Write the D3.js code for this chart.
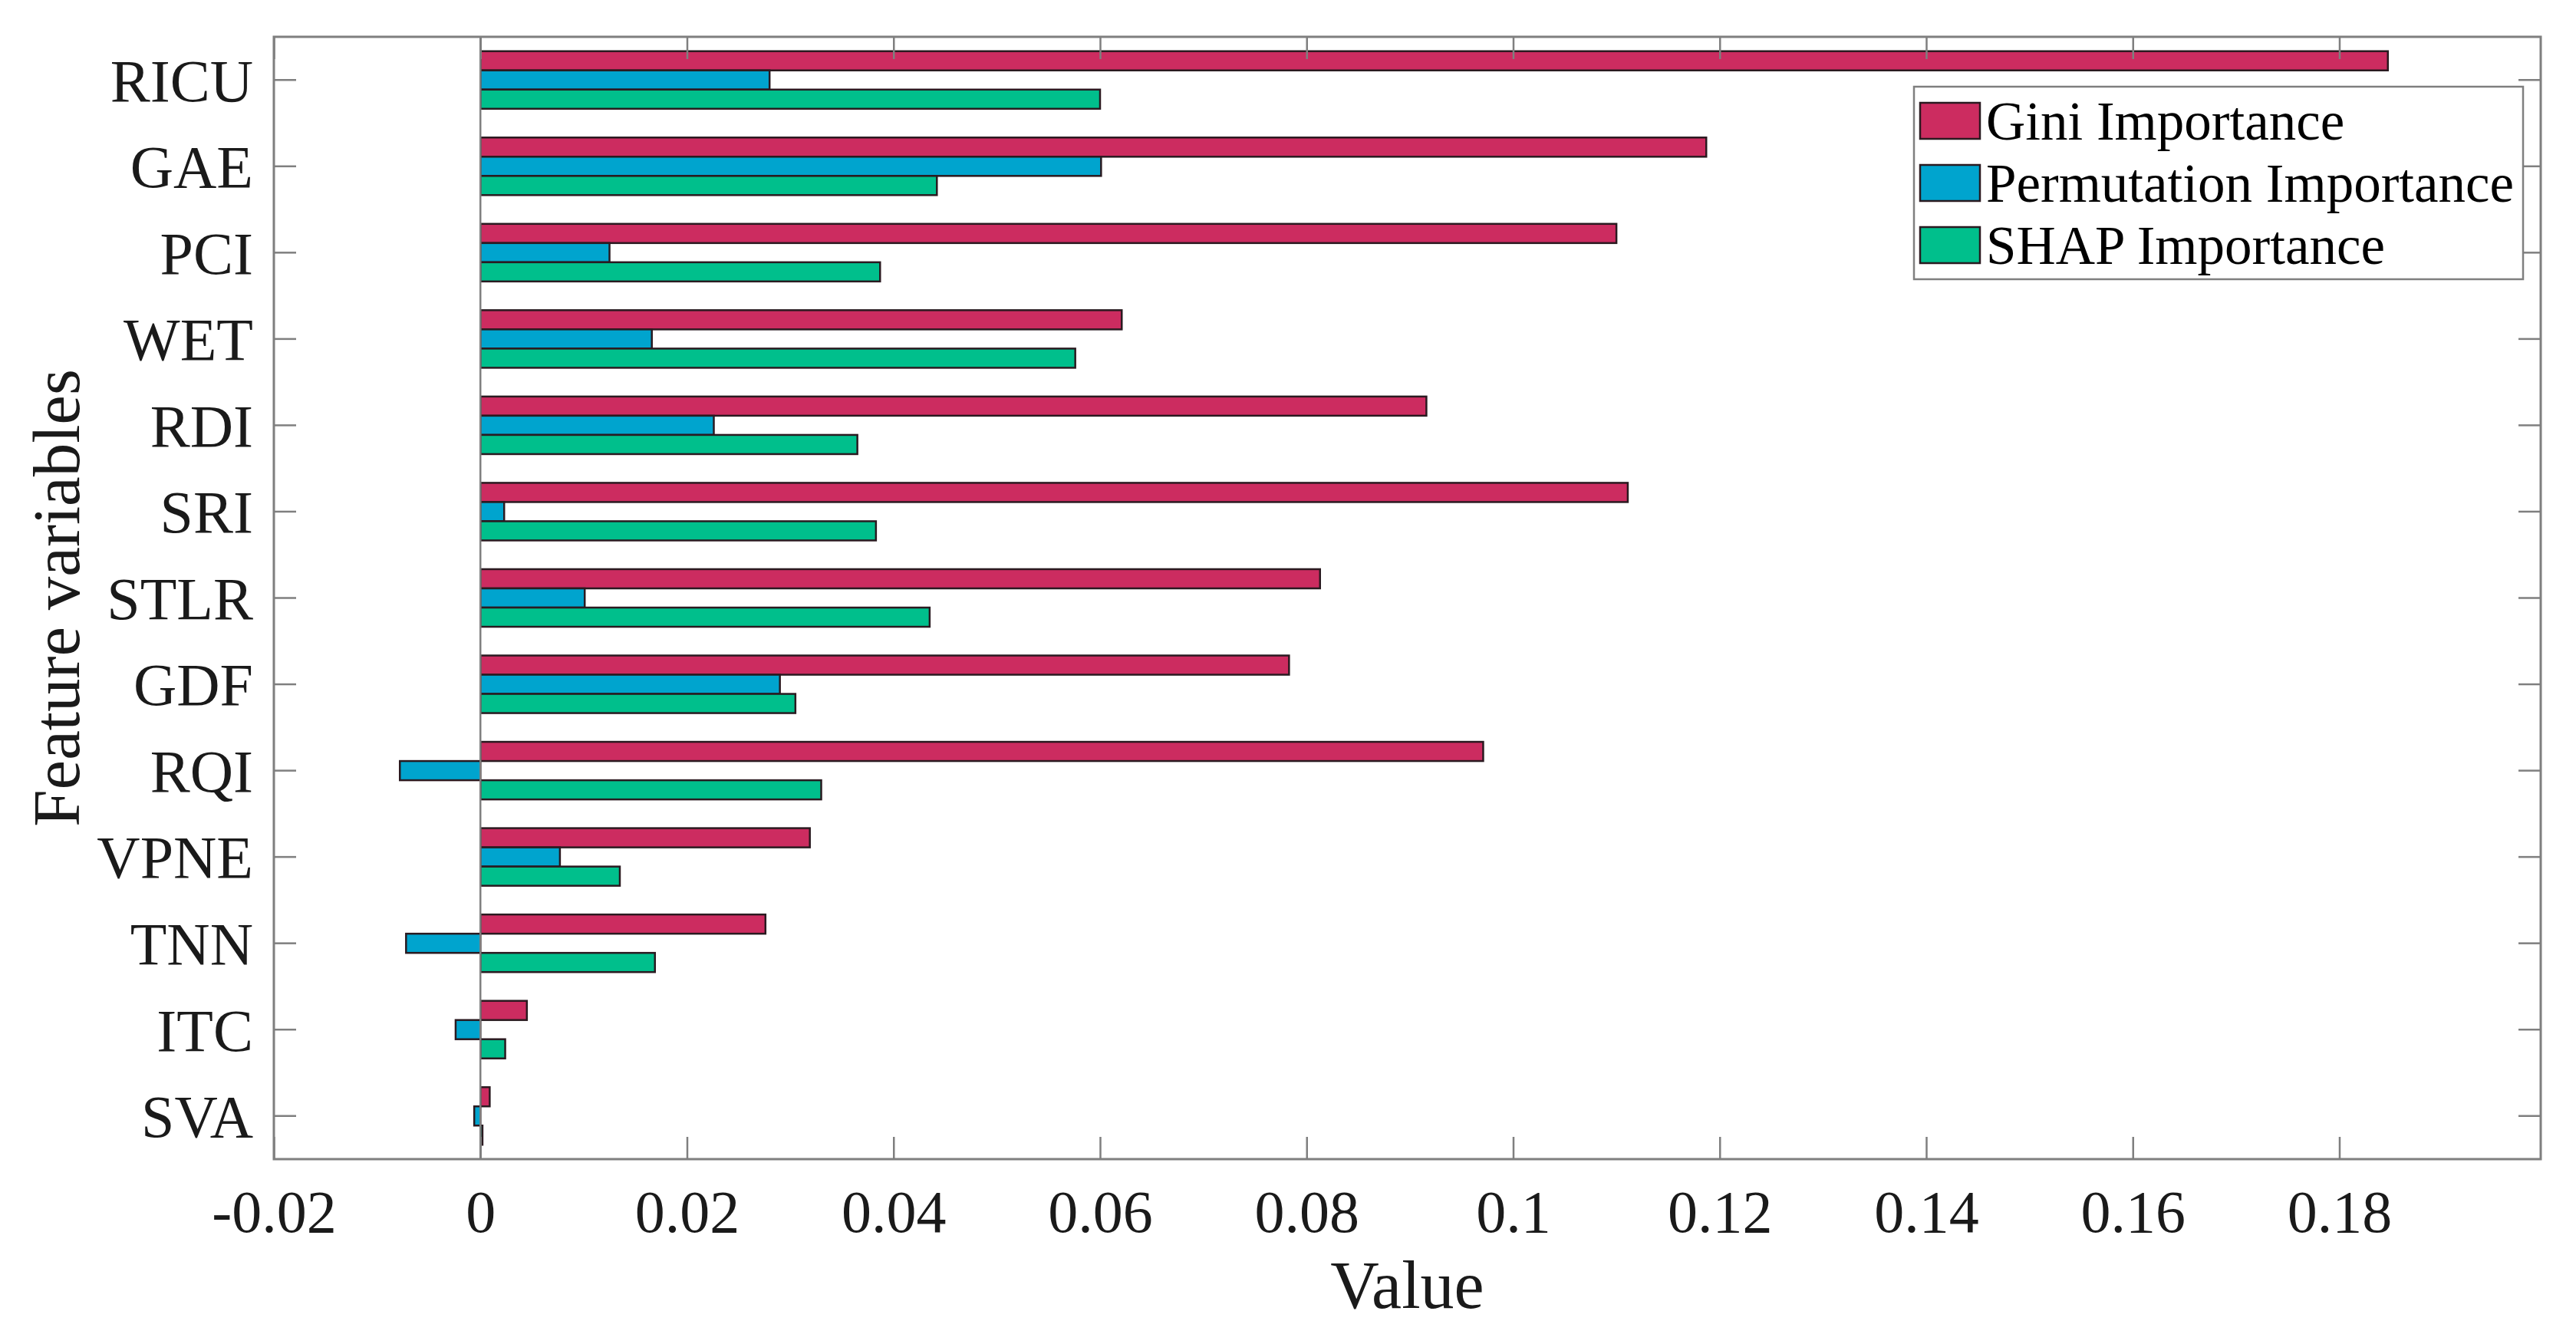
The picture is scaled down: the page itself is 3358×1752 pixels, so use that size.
<!DOCTYPE html>
<html>
<head>
<meta charset="utf-8">
<script src="https://cdn.jsdelivr.net/npm/d3@7"></script>
<style>
  body { margin: 0; background: #fff; }
  svg { display: block; }
</style>
</head>
<body>
<svg id="chart"></svg>
<script>
// features, top to bottom
var features = ["RICU", "GAE", "PCI", "WET", "RDI", "SRI", "STLR", "GDF", "RQI", "VPNE", "TNN", "ITC", "SVA"];
var seriesNames = ["Gini Importance", "Permutation Importance", "SHAP Importance"];
var gini = [0.1847, 0.1187, 0.1100, 0.0621, 0.0916, 0.1111, 0.0813, 0.0783, 0.0971, 0.0319, 0.0276, 0.0045, 0.0009];
var permutation = [0.0280, 0.0601, 0.0125, 0.0166, 0.0226, 0.0023, 0.0101, 0.0290, -0.0078, 0.0077, -0.0072, -0.0024, -0.0006];
var shap = [0.0600, 0.0442, 0.0387, 0.0576, 0.0365, 0.0383, 0.0435, 0.0305, 0.0330, 0.0135, 0.0169, 0.0024, 0.0002];
var xTicks = [-0.02, 0, 0.02, 0.04, 0.06, 0.08, 0.1, 0.12, 0.14, 0.16, 0.18];

var colors = ["#CC2C60", "#00A4CE", "#00BF8C"];
var allSeries = [gini, permutation, shap];

var svgWidth = 3358, svgHeight = 1752;
var margin = { top: 48, right: 46, bottom: 241, left: 357 };
var width = svgWidth - margin.left - margin.right;
var height = svgHeight - margin.top - margin.bottom;
var font = "'Liberation Serif', 'Times New Roman', serif";
var axisColor = "#7f7f7f";

var svg = d3.select("#chart")
    .attr("width", svgWidth)
    .attr("height", svgHeight);

svg.append("rect")
    .attr("width", "100%")
    .attr("height", "100%")
    .attr("fill", "white");

var g = svg.append("g")
    .attr("transform", "translate(" + margin.left + "," + margin.top + ")");

var x = d3.scaleLinear().domain([-0.02, 0.1995]).range([0, width]);
var y = d3.scaleBand().domain(features).range([0, height]).padding(0);
var groupH = y.bandwidth() * 0.667;
var ySub = d3.scaleBand().domain(d3.range(3)).range([0, groupH]).padding(0);

// bars
var rows = [];
features.forEach(function (f, i) {
    allSeries.forEach(function (s, j) {
        rows.push({ feature: f, series: j, value: s[i] });
    });
});

g.append("g").selectAll("rect")
    .data(rows)
    .enter().append("rect")
    .attr("x", function (d) { return x(Math.min(0, d.value)); })
    .attr("width", function (d) { return Math.abs(x(d.value) - x(0)); })
    .attr("y", function (d) { return y(d.feature) + (y.bandwidth() - groupH) / 2 + ySub(d.series); })
    .attr("height", ySub.bandwidth())
    .attr("fill", function (d) { return colors[d.series]; })
    .attr("stroke", "#2a1a20")
    .attr("stroke-width", 2.5);

// baseline at zero
g.append("line")
    .attr("x1", x(0)).attr("x2", x(0))
    .attr("y1", 0).attr("y2", height)
    .attr("stroke", axisColor)
    .attr("stroke-width", 2.5);

// axes, ticks pointing inward
function styleAxis(sel) {
    sel.select(".domain").remove();
    sel.selectAll(".tick line").attr("stroke", axisColor).attr("stroke-width", 2.5);
    sel.selectAll("text")
        .attr("font-family", font)
        .attr("font-size", 78)
        .attr("fill", "#1a1a1a");
}

var xAxis = g.append("g")
    .attr("transform", "translate(0," + height + ")")
    .call(d3.axisBottom(x).tickValues(xTicks).tickSize(-29).tickFormat(function (d) { return String(+d.toFixed(2)); }));
styleAxis(xAxis);
xAxis.selectAll("text").attr("y", 95).attr("dy", 0);

var xTop = g.append("g")
    .call(d3.axisTop(x).tickValues(xTicks).tickSize(-29).tickFormat(""));
styleAxis(xTop);

var yAxis = g.append("g")
    .call(d3.axisLeft(y).tickSize(-29).tickPadding(27));
styleAxis(yAxis);
yAxis.selectAll("text").attr("dy", "0.35em");

var yRight = g.append("g")
    .attr("transform", "translate(" + width + ",0)")
    .call(d3.axisRight(y).tickSize(-29).tickFormat(""));
styleAxis(yRight);

// frame
g.append("rect")
    .attr("width", width)
    .attr("height", height)
    .attr("fill", "none")
    .attr("stroke", axisColor)
    .attr("stroke-width", 3);

// axis titles
svg.append("text")
    .attr("x", margin.left + width / 2)
    .attr("y", 1705)
    .attr("text-anchor", "middle")
    .attr("font-family", font)
    .attr("font-size", 88)
    .attr("fill", "#1a1a1a")
    .text("Value");

svg.append("text")
    .attr("transform", "translate(103," + (margin.top + height / 2) + ") rotate(-90)")
    .attr("text-anchor", "middle")
    .attr("font-family", font)
    .attr("font-size", 87)
    .attr("fill", "#1a1a1a")
    .text("Feature variables");

// legend
var legend = svg.append("g").attr("transform", "translate(2495,113)");
legend.append("rect")
    .attr("width", 794)
    .attr("height", 251)
    .attr("fill", "white")
    .attr("stroke", axisColor)
    .attr("stroke-width", 2.5);

var items = legend.selectAll("g.item")
    .data(seriesNames)
    .enter().append("g")
    .attr("class", "item")
    .attr("transform", function (d, i) { return "translate(8," + (21 + i * 81) + ")"; });

items.append("rect")
    .attr("width", 78)
    .attr("height", 47)
    .attr("fill", function (d, i) { return colors[i]; })
    .attr("stroke", "#2a1a20")
    .attr("stroke-width", 2.5);

items.append("text")
    .attr("x", 86)
    .attr("y", 48)
    .attr("font-family", font)
    .attr("font-size", 71)
    .attr("fill", "#000")
    .text(function (d) { return d; });
</script>
</body>
</html>
